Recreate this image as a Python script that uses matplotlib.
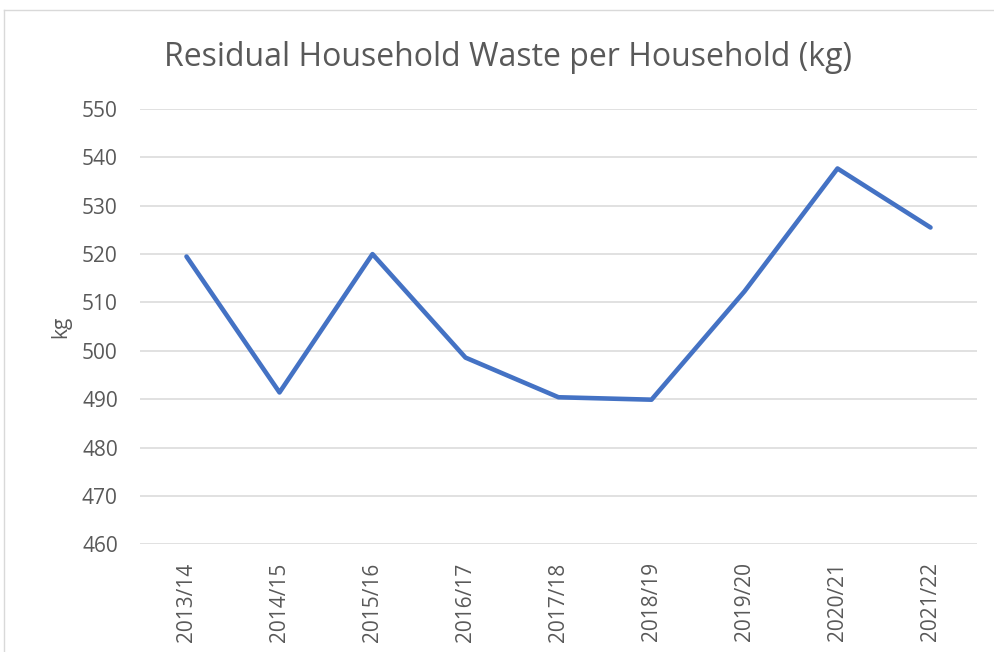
import matplotlib
matplotlib.use("Agg")
import matplotlib.pyplot as plt
from matplotlib.lines import Line2D

# data
years = ['2013/14', '2014/15', '2015/16', '2016/17', '2017/18',
         '2018/19', '2019/20', '2020/21', '2021/22']
waste_kg = [519.5, 491.4, 520.0, 498.6, 490.4, 489.9, 512.3, 537.7, 525.5]
y_ticks = list(range(460, 551, 10))

plt.rcParams['font.family'] = ['Open Sans', 'DejaVu Sans']
text_grey = '#595959'

fig = plt.figure(figsize=(9.95, 6.52), dpi=100)
ax = fig.add_axes([140 / 995, 1 - 544.3 / 652, 837 / 995, 435.3 / 652])

x = list(range(len(years)))
ax.plot(x, waste_kg, color='#4472C4', linewidth=3.3, solid_capstyle='round',
        solid_joinstyle='round', zorder=3)

ax.set_xlim(-0.5, len(years) - 0.5)
ax.set_ylim(460, 550)
ax.set_yticks(y_ticks)
ax.set_xticks(x)
ax.set_xticklabels(years, rotation=90)
ax.grid(axis='y', color='#D9D9D9', linewidth=1.1)
ax.set_axisbelow(True)
for s in ax.spines.values():
    s.set_visible(False)
ax.tick_params(axis='both', length=0, colors=text_grey, labelsize=15)
ax.tick_params(axis='x', pad=13)
ax.tick_params(axis='y', pad=16)
ax.set_ylabel('kg', color=text_grey, fontsize=15, labelpad=8)

fig.text(508 / 995, 1 - 57 / 652, 'Residual Household Waste per Household (kg)',
         ha='center', va='center', fontsize=23, color=text_grey)

# chart area border (only top and left visible in the crop)
fig.add_artist(Line2D([4 / 995, 1], [1 - 10 / 652, 1 - 10 / 652],
                      transform=fig.transFigure, color='#D9D9D9', linewidth=1))
fig.add_artist(Line2D([4 / 995, 4 / 995], [0, 1 - 10 / 652],
                      transform=fig.transFigure, color='#D9D9D9', linewidth=1))

fig.savefig('out.png', dpi=100)
